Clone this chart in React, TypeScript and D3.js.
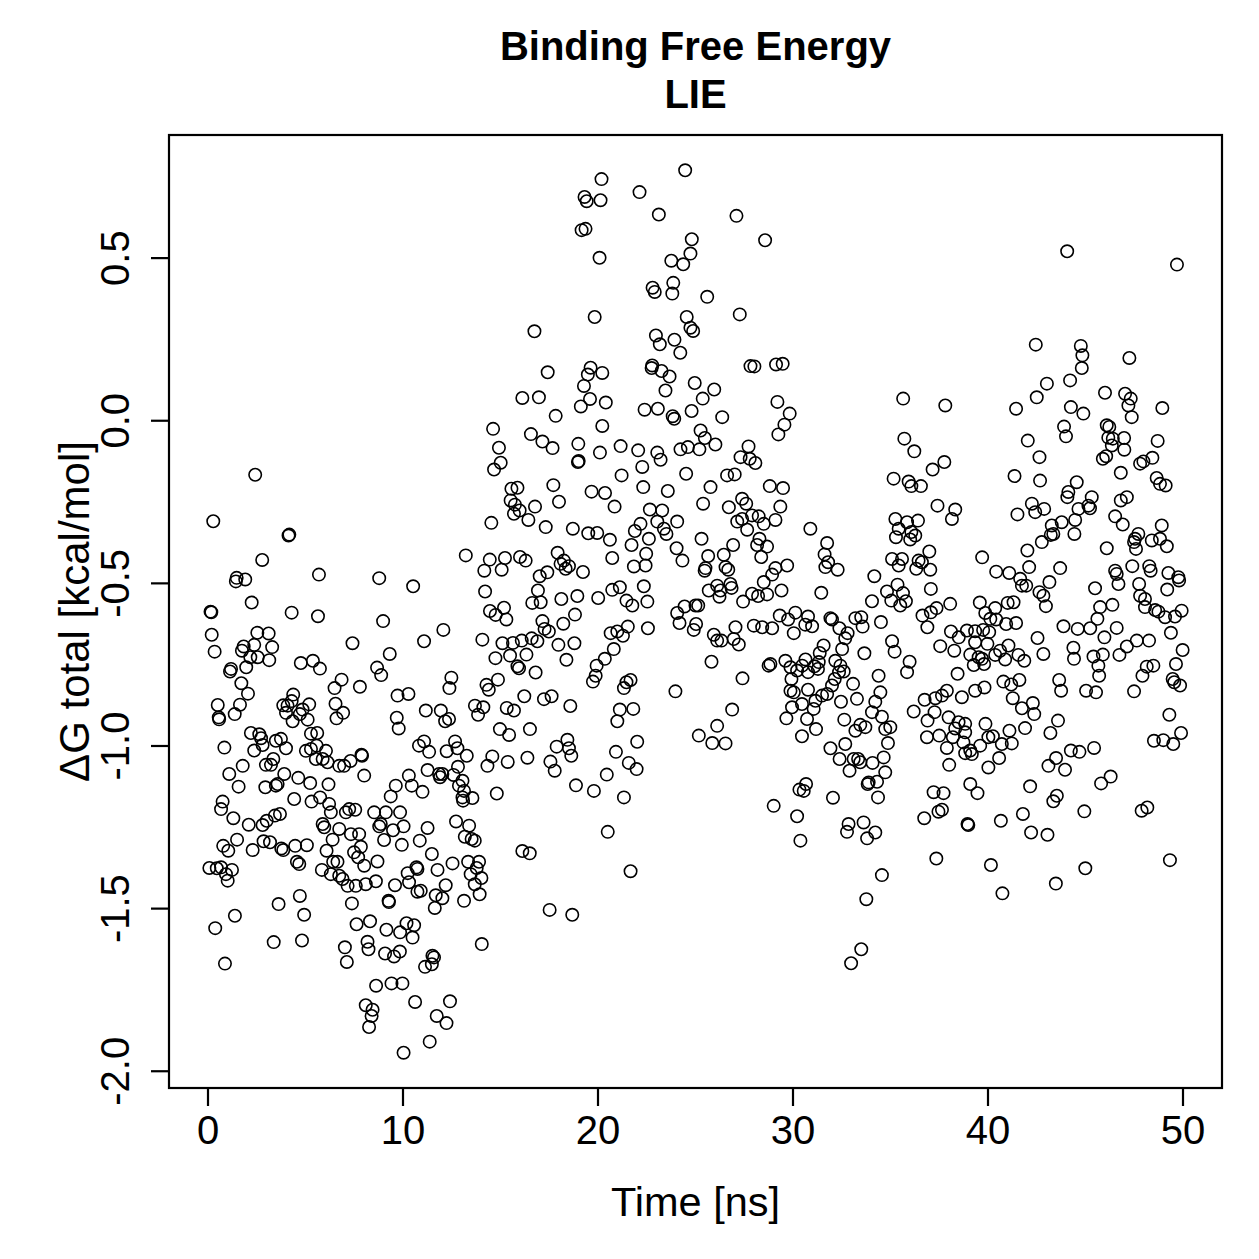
import { useEffect, useRef } from 'react';
import * as d3 from 'd3';

// LIE binding free energy along the trajectory, [time (ns), dG (kcal/mol)]
const frames0to5: [number, number][] = [
  [2.42,-0.166],[0.27,-0.309],[4.13,-0.353],[4.17,-0.35],[2.78,-0.428],[1.47,-0.483],[1.91,-0.488],[1.43,-0.494],
  [2.24,-0.559],[0.13,-0.587],[0.17,-0.589],[4.29,-0.59],[0.19,-0.658],[2.53,-0.652],[3.11,-0.654],[0.34,-0.71],
  [1.83,-0.694],[1.74,-0.707],[2.37,-0.689],[3.29,-0.696],[2.17,-0.727],[2.55,-0.727],[3.14,-0.736],[1.96,-0.758],
  [1.18,-0.763],[1.13,-0.771],[4.76,-0.745],[1.71,-0.807],[2.05,-0.839],[0.5,-0.874],[1.64,-0.873],[1.37,-0.902],
  [0.55,-0.912],[0.57,-0.918],[4.37,-0.842],[4.29,-0.862],[3.86,-0.875],[4.08,-0.876],[4.0,-0.898],[4.85,-0.888],
  [4.71,-0.902],[4.34,-0.924],[2.2,-0.96],[2.63,-0.964],[2.72,-0.976],[2.8,-0.997],[3.48,-0.984],[3.74,-0.978],
  [4.0,-1.007],[0.84,-1.005],[2.37,-1.014],[1.78,-1.061],[1.09,-1.086],[1.57,-1.125],[2.97,-1.058],[3.35,-1.04],
  [3.23,-1.058],[3.91,-1.086],[2.94,-1.127],[3.48,-1.122],[3.57,-1.117],[4.63,-1.098],[0.75,-1.171],[0.67,-1.194],
  [1.3,-1.222],[2.09,-1.242],[2.8,-1.243],[3.01,-1.23],[3.43,-1.214],[3.69,-1.209],[4.42,-1.163],[0.78,-1.307],
  [1.04,-1.322],[1.49,-1.288],[2.29,-1.32],[2.85,-1.293],[3.18,-1.296],[3.76,-1.315],[3.86,-1.32],[4.47,-1.307],
  [4.56,-1.356],[4.68,-1.363],[0.07,-1.375],[0.45,-1.376],[0.67,-1.373],[1.23,-1.381],[0.92,-1.394],[1.01,-1.414],
  [4.71,-1.461],[3.62,-1.486],[1.38,-1.522],[0.37,-1.56],[3.37,-1.603],[4.82,-1.598],[0.87,-1.669],[4.93,-1.519],
];

const frames5to10: [number, number][] = [
  [5.38,-0.738],[5.74,-0.762],[5.69,-0.473],[5.64,-0.601],[8.78,-0.484],[8.98,-0.616],[7.41,-0.684],[9.32,-0.717],
  [8.67,-0.759],[8.88,-0.782],[6.85,-0.796],[6.49,-0.822],[7.79,-0.818],[9.72,-0.845],[5.19,-0.872],[5.11,-0.919],
  [6.54,-0.87],[6.93,-0.898],[6.59,-0.915],[9.68,-0.913],[9.78,-0.946],[5.28,-0.962],[5.6,-0.96],[5.02,-1.015],
  [5.28,-1.009],[5.57,-0.999],[6.05,-1.015],[7.87,-1.027],[7.9,-1.03],[7.31,-1.046],[5.53,-1.04],[5.88,-1.04],
  [6.13,-1.05],[6.73,-1.061],[6.98,-1.061],[8.01,-1.091],[5.24,-1.114],[6.18,-1.118],[9.63,-1.122],[9.37,-1.155],
  [5.31,-1.171],[5.75,-1.158],[6.21,-1.178],[6.3,-1.204],[7.07,-1.204],[7.24,-1.194],[7.55,-1.196],[8.52,-1.204],
  [9.12,-1.204],[9.85,-1.204],[5.88,-1.24],[5.96,-1.25],[6.73,-1.255],[7.33,-1.271],[7.75,-1.271],[8.86,-1.24],
  [8.78,-1.247],[9.49,-1.259],[9.03,-1.289],[9.94,-1.304],[5.07,-1.305],[6.39,-1.288],[6.08,-1.322],[7.84,-1.31],
  [7.49,-1.327],[7.7,-1.342],[8.01,-1.368],[6.42,-1.356],[6.64,-1.356],[8.69,-1.355],[5.84,-1.381],[6.3,-1.394],
  [6.73,-1.399],[6.9,-1.409],[7.16,-1.43],[7.58,-1.43],[8.09,-1.425],[8.61,-1.416],[9.59,-1.428],[7.38,-1.484],
  [9.26,-1.476],[9.28,-1.48],[7.62,-1.548],[8.31,-1.539],[9.15,-1.565],[9.85,-1.573],[7.02,-1.619],[7.12,-1.664],
  [8.18,-1.602],[8.23,-1.625],[9.08,-1.638],[9.54,-1.647],[9.84,-1.632],[8.62,-1.737],[9.41,-1.73],[9.97,-1.73],
  [8.09,-1.797],[8.44,-1.811],[8.39,-1.83],[8.26,-1.864],
];

const frames10to15: [number, number][] = [
  [10.03,-1.247],[10.24,-1.391],[10.31,-1.419],[10.18,-1.545],[10.03,-1.943],[14.62,-0.025],[14.92,-0.083],[14.67,-0.15],
  [14.53,-0.314],[13.22,-0.414],[14.45,-0.427],[14.17,-0.461],[10.52,-0.509],[14.21,-0.525],[14.46,-0.585],[14.75,-0.597],
  [12.07,-0.643],[11.08,-0.678],[14.07,-0.673],[14.74,-0.73],[12.48,-0.79],[12.38,-0.822],[14.28,-0.812],[14.4,-0.827],
  [14.87,-0.796],[10.28,-0.84],[11.17,-0.891],[11.94,-0.891],[12.16,-0.924],[12.36,-0.917],[13.69,-0.876],[13.85,-0.904],
  [14.12,-0.881],[14.97,-0.948],[11.08,-0.986],[10.82,-0.999],[11.34,-1.018],[12.24,-1.016],[12.67,-0.986],[12.79,-1.007],
  [13.27,-1.03],[14.58,-1.032],[14.33,-1.061],[11.26,-1.074],[10.3,-1.091],[10.45,-1.122],[11.0,-1.141],[11.85,-1.086],
  [11.9,-1.096],[12.02,-1.086],[12.59,-1.089],[12.82,-1.064],[13.05,-1.107],[12.87,-1.122],[13.13,-1.138],[13.56,-1.16],
  [14.81,-1.146],[13.05,-1.158],[13.08,-1.168],[11.26,-1.252],[10.86,-1.291],[12.72,-1.232],[13.39,-1.245],[13.17,-1.279],
  [13.52,-1.286],[13.68,-1.291],[11.48,-1.332],[10.69,-1.373],[10.74,-1.378],[11.77,-1.381],[12.54,-1.361],[13.34,-1.356],
  [13.9,-1.356],[13.78,-1.375],[13.47,-1.394],[14.02,-1.406],[13.68,-1.425],[13.93,-1.456],[12.19,-1.428],[11.68,-1.459],
  [12.02,-1.468],[11.63,-1.498],[10.74,-1.448],[10.91,-1.445],[13.13,-1.476],[10.57,-1.551],[10.49,-1.589],[14.04,-1.609],
  [11.51,-1.645],[11.59,-1.65],[11.48,-1.671],[11.13,-1.679],[10.62,-1.787],[12.41,-1.785],[11.73,-1.83],[12.23,-1.852],
  [11.37,-1.909],
];

const frames15to20: [number, number][] = [
  [19.31,0.688],[19.42,0.675],[19.16,0.586],[19.36,0.59],[19.83,0.319],[16.74,0.275],[17.42,0.149],[19.62,0.163],
  [19.48,0.142],[19.28,0.107],[16.12,0.07],[16.97,0.072],[19.59,0.067],[19.12,0.044],[17.83,0.015],[16.56,-0.041],
  [17.15,-0.064],[17.67,-0.084],[18.99,-0.071],[18.97,-0.127],[19.01,-0.124],[15.01,-0.129],[15.56,-0.209],[15.87,-0.206],
  [17.71,-0.198],[19.67,-0.218],[18.0,-0.249],[15.52,-0.245],[15.74,-0.258],[15.98,-0.276],[15.69,-0.286],[16.77,-0.264],
  [16.43,-0.305],[17.32,-0.327],[18.71,-0.332],[19.5,-0.346],[19.96,-0.345],[15.23,-0.422],[15.06,-0.458],[16.0,-0.419],
  [16.29,-0.43],[17.93,-0.406],[18.08,-0.44],[18.25,-0.43],[18.51,-0.447],[18.34,-0.455],[19.23,-0.465],[17.01,-0.478],
  [17.4,-0.466],[16.92,-0.522],[16.63,-0.56],[17.06,-0.558],[18.12,-0.548],[18.94,-0.539],[15.18,-0.575],[15.3,-0.611],
  [18.82,-0.596],[18.22,-0.624],[17.15,-0.616],[17.26,-0.64],[17.48,-0.648],[15.1,-0.684],[15.64,-0.683],[16.09,-0.676],
  [16.6,-0.669],[16.89,-0.678],[17.97,-0.689],[18.79,-0.684],[15.49,-0.722],[16.33,-0.719],[18.38,-0.735],[15.87,-0.755],
  [15.95,-0.761],[16.8,-0.774],[19.93,-0.753],[19.88,-0.784],[19.74,-0.802],[16.22,-0.847],[17.23,-0.856],[17.62,-0.847],
  [18.58,-0.877],[15.32,-0.883],[15.69,-0.891],[15.44,-0.966],[16.51,-0.948],[15.37,-1.049],[16.38,-1.036],[17.88,-1.002],
  [18.43,-0.981],[18.51,-1.007],[18.63,-1.03],[17.56,-1.048],[17.78,-1.076],[18.87,-1.121],[19.79,-1.138],[16.12,-1.323],
  [16.5,-1.33],[17.52,-1.504],[18.68,-1.519],
];

const frames20to25: [number, number][] = [
  [20.13,0.678],[20.18,0.743],[20.08,0.501],[20.22,0.147],[20.4,0.056],[20.22,-0.016],[20.1,-0.098],[20.36,-0.222],
  [20.01,-0.545],[20.45,-1.088],[20.5,-1.264],[24.47,0.77],[22.13,0.703],[23.12,0.634],[24.81,0.558],[24.74,0.514],
  [23.76,0.492],[24.37,0.481],[22.8,0.409],[22.91,0.396],[23.86,0.424],[23.81,0.391],[24.55,0.319],[24.74,0.286],
  [24.88,0.276],[22.97,0.262],[23.17,0.235],[23.92,0.249],[24.22,0.209],[22.78,0.17],[22.75,0.162],[23.26,0.153],
  [23.67,0.136],[23.46,0.093],[24.96,0.116],[22.39,0.034],[23.07,0.037],[23.83,0.014],[23.91,0.006],[24.8,0.03],
  [21.16,-0.078],[22.06,-0.091],[23.04,-0.098],[23.21,-0.12],[22.27,-0.142],[24.23,-0.088],[24.61,-0.081],[21.21,-0.168],
  [24.52,-0.163],[20.85,-0.264],[22.32,-0.204],[23.58,-0.216],[22.66,-0.273],[23.29,-0.276],[23.04,-0.31],[23.38,-0.332],
  [23.51,-0.348],[24.06,-0.31],[22.18,-0.317],[21.89,-0.339],[22.61,-0.363],[20.61,-0.366],[21.72,-0.382],[22.47,-0.409],
  [22.44,-0.445],[21.84,-0.448],[20.73,-0.422],[24.03,-0.392],[24.33,-0.43],[22.35,-0.509],[22.53,-0.556],[20.73,-0.52],
  [21.12,-0.512],[21.46,-0.553],[21.76,-0.568],[24.06,-0.591],[24.44,-0.571],[24.18,-0.622],[20.65,-0.653],[20.99,-0.648],
  [21.28,-0.661],[21.53,-0.633],[22.56,-0.638],[20.81,-0.702],[20.35,-0.732],[21.67,-0.797],[21.46,-0.804],[21.33,-0.822],
  [23.97,-0.832],[21.12,-0.888],[20.99,-0.924],[21.81,-0.886],[22.01,-0.987],[20.92,-1.018],[21.58,-1.052],[21.98,-1.071],
  [21.33,-1.158],[21.67,-1.385],[24.91,-0.643],
];

const frames25to30: [number, number][] = [
  [27.1,0.63],[28.57,0.555],[25.6,0.381],[27.27,0.327],[27.82,0.168],[28.02,0.167],[29.13,0.173],[29.47,0.175],
  [25.37,0.068],[25.96,0.096],[26.37,0.011],[29.2,0.058],[29.83,0.022],[29.56,-0.012],[29.25,-0.042],[25.26,-0.03],
  [25.48,-0.053],[26.02,-0.073],[25.2,-0.088],[27.72,-0.079],[27.31,-0.112],[27.78,-0.117],[28.07,-0.13],[26.62,-0.168],
  [27.01,-0.165],[25.77,-0.204],[25.39,-0.255],[26.71,-0.266],[27.39,-0.24],[27.6,-0.255],[27.14,-0.31],[27.39,-0.302],
  [28.81,-0.201],[29.49,-0.207],[29.35,-0.264],[27.9,-0.291],[28.24,-0.294],[27.65,-0.335],[28.5,-0.317],[29.1,-0.305],
  [25.31,-0.363],[25.65,-0.416],[25.51,-0.453],[25.47,-0.461],[26.93,-0.382],[26.45,-0.412],[26.54,-0.45],[26.68,-0.458],
  [28.28,-0.363],[28.16,-0.382],[28.67,-0.387],[28.37,-0.419],[29.1,-0.453],[29.7,-0.445],[28.93,-0.473],[28.5,-0.496],
  [28.67,-0.534],[29.41,-0.522],[25.68,-0.522],[26.11,-0.507],[26.28,-0.522],[26.23,-0.541],[26.79,-0.502],[26.85,-0.514],
  [27.44,-0.556],[27.9,-0.532],[28.21,-0.539],[25.0,-0.568],[25.14,-0.568],[25.03,-0.625],[25.94,-0.658],[26.11,-0.676],
  [26.33,-0.676],[27.05,-0.635],[26.96,-0.671],[27.22,-0.688],[27.99,-0.63],[28.42,-0.635],[28.93,-0.638],[29.32,-0.599],
  [29.75,-0.611],[25.82,-0.741],[27.41,-0.792],[28.84,-0.748],[28.75,-0.753],[29.61,-0.738],[29.87,-0.758],[29.92,-0.794],
  [29.87,-0.83],[29.95,-0.881],[29.66,-0.915],[26.88,-0.888],[26.11,-0.938],[25.17,-0.968],[25.86,-0.991],[26.54,-0.992],
  [29.01,-1.184],
];

const frames30to35: [number, number][] = [
  [30.12,-0.59],[30.04,-0.653],[30.89,-0.332],[31.75,-0.376],[31.62,-0.411],[31.8,-0.435],[31.66,-0.45],[32.29,-0.458],
  [34.17,-0.478],[31.45,-0.529],[34.82,-0.525],[34.05,-0.555],[30.77,-0.602],[30.63,-0.627],[30.98,-0.632],[31.92,-0.607],
  [32.0,-0.611],[32.38,-0.638],[32.8,-0.653],[32.68,-0.669],[32.52,-0.702],[33.2,-0.607],[33.5,-0.604],[33.57,-0.633],
  [34.51,-0.619],[33.66,-0.715],[31.57,-0.691],[31.37,-0.714],[31.32,-0.742],[31.1,-0.755],[30.64,-0.734],[30.47,-0.753],
  [30.21,-0.768],[30.77,-0.773],[31.28,-0.763],[32.17,-0.738],[32.43,-0.753],[32.6,-0.771],[34.39,-0.784],[32.36,-0.773],
  [30.04,-0.835],[30.77,-0.827],[30.46,-0.871],[30.72,-0.917],[31.06,-0.886],[31.15,-0.861],[31.49,-0.845],[31.75,-0.84],
  [32.0,-0.814],[32.14,-0.794],[31.18,-0.948],[30.46,-0.97],[32.46,-0.864],[33.08,-0.809],[33.28,-0.855],[32.63,-0.919],
  [34.48,-0.835],[34.22,-0.864],[34.05,-0.896],[34.56,-0.91],[34.73,-0.948],[34.99,-0.942],[34.87,-0.991],[34.65,-1.035],
  [33.45,-0.935],[33.71,-0.942],[33.2,-0.953],[31.92,-1.007],[32.68,-0.994],[32.39,-1.04],[32.9,-1.076],[33.11,-1.04],
  [33.34,-1.04],[33.45,-1.05],[34.08,-1.052],[34.73,-1.081],[34.31,-1.11],[33.88,-1.112],[33.83,-1.117],[34.36,-1.158],
  [30.67,-1.117],[30.33,-1.134],[30.55,-1.138],[32.05,-1.159],[30.21,-1.216],[30.38,-1.291],[32.85,-1.24],[32.77,-1.264],
  [33.62,-1.235],[33.8,-1.284],[34.22,-1.266],[34.56,-1.397],[33.76,-1.471],[33.5,-1.625],[32.98,-1.668],
];

const frames35to40: [number, number][] = [
  [35.65,0.068],[37.81,0.047],[35.71,-0.055],[36.22,-0.094],[37.76,-0.127],[37.16,-0.15],[35.16,-0.178],[35.93,-0.187],
  [36.07,-0.201],[36.56,-0.201],[37.41,-0.261],[38.32,-0.273],[38.15,-0.302],[35.25,-0.302],[35.85,-0.312],[36.41,-0.307],
  [35.42,-0.332],[35.28,-0.358],[36.07,-0.342],[36.27,-0.353],[36.01,-0.365],[35.08,-0.425],[35.59,-0.425],[35.42,-0.445],
  [36.44,-0.43],[36.61,-0.435],[36.32,-0.455],[37.04,-0.458],[36.99,-0.402],[39.7,-0.42],[35.36,-0.504],[35.64,-0.53],
  [35.04,-0.553],[35.5,-0.568],[35.79,-0.555],[37.07,-0.517],[38.06,-0.563],[39.58,-0.559],[39.86,-0.591],[39.75,-0.643],
  [36.64,-0.599],[37.07,-0.589],[37.36,-0.576],[36.89,-0.635],[35.08,-0.678],[35.21,-0.71],[35.98,-0.741],[37.55,-0.693],
  [38.1,-0.648],[38.27,-0.707],[38.5,-0.666],[38.92,-0.645],[39.34,-0.647],[39.34,-0.681],[39.09,-0.719],[39.52,-0.727],
  [39.27,-0.751],[39.8,-0.748],[39.69,-0.732],[35.85,-0.773],[38.44,-0.778],[36.19,-0.894],[36.75,-0.858],[37.3,-0.853],
  [37.64,-0.845],[37.89,-0.83],[36.9,-0.922],[37.26,-0.896],[37.98,-0.912],[38.66,-0.85],[39.34,-0.83],[39.82,-0.82],
  [36.87,-0.973],[37.5,-0.968],[38.2,-0.973],[37.89,-1.006],[38.32,-0.946],[38.49,-0.927],[38.83,-0.932],[38.83,-0.958],
  [38.74,-0.989],[38.83,-1.022],[39.09,-1.014],[39.6,-0.999],[39.17,-1.025],[39.87,-0.932],[38.01,-1.058],[37.21,-1.142],
  [37.72,-1.145],[39.09,-1.117],[39.46,-1.145],[36.73,-1.222],[37.46,-1.202],[37.64,-1.196],[38.95,-1.24],[38.99,-1.243],
  [37.35,-1.346],[39.97,-0.686],
];

const frames40to45: [number, number][] = [
  [40.02,-0.973],[40.02,-1.066],[40.15,-1.366],[40.06,-0.65],[40.12,-0.609],[44.06,0.521],[42.45,0.234],[44.76,0.23],
  [44.84,0.201],[44.81,0.162],[43.02,0.114],[42.5,0.072],[41.44,0.037],[44.21,0.124],[44.25,0.042],[44.89,0.022],
  [43.9,-0.018],[44.0,-0.048],[42.04,-0.061],[42.64,-0.112],[41.36,-0.17],[42.67,-0.184],[44.55,-0.189],[44.12,-0.219],
  [44.07,-0.235],[42.25,-0.255],[42.42,-0.281],[42.88,-0.271],[41.51,-0.288],[44.64,-0.271],[44.47,-0.305],[43.78,-0.312],
  [43.27,-0.322],[43.35,-0.348],[43.22,-0.351],[44.43,-0.348],[42.76,-0.373],[42.02,-0.399],[40.42,-0.464],[41.09,-0.468],
  [42.11,-0.45],[41.65,-0.486],[41.74,-0.507],[41.96,-0.507],[43.7,-0.453],[43.15,-0.496],[42.64,-0.527],[42.84,-0.538],
  [42.97,-0.57],[40.37,-0.576],[41.01,-0.56],[41.31,-0.558],[41.44,-0.622],[40.93,-0.625],[40.42,-0.611],[41.05,-0.691],
  [40.62,-0.707],[40.37,-0.72],[40.88,-0.734],[41.56,-0.72],[41.86,-0.738],[40.79,-0.802],[41.19,-0.811],[41.61,-0.797],
  [43.65,-0.797],[43.75,-0.83],[43.87,-0.632],[44.6,-0.64],[42.54,-0.668],[42.84,-0.717],[44.38,-0.698],[44.41,-0.732],
  [41.27,-0.853],[41.74,-0.884],[42.3,-0.868],[42.37,-0.902],[40.25,-0.97],[40.71,-0.994],[41.22,-0.992],[41.1,-0.953],
  [41.9,-0.945],[43.59,-0.922],[43.2,-0.96],[44.25,-1.014],[44.69,-1.018],[43.49,-1.037],[43.1,-1.061],[43.95,-1.073],
  [40.57,-1.037],[42.16,-1.124],[43.53,-1.153],[43.35,-1.17],[44.94,-1.201],[41.79,-1.209],[40.66,-1.23],[42.21,-1.266],
  [43.05,-1.273],[44.99,-1.376],[43.48,-1.423],[40.74,-1.453],
];

const frames45to50: [number, number][] = [
  [49.69,0.48],[47.25,0.193],[46.0,0.086],[47.03,0.083],[47.32,0.068],[47.2,0.047],[47.37,0.011],[48.94,0.039],
  [46.09,-0.014],[46.22,-0.019],[46.17,-0.052],[46.4,-0.055],[46.98,-0.053],[46.35,-0.076],[46.99,-0.089],[48.7,-0.062],
  [45.89,-0.117],[46.06,-0.109],[47.8,-0.132],[47.97,-0.125],[48.43,-0.114],[46.81,-0.16],[48.65,-0.176],[48.82,-0.194],
  [49.11,-0.199],[45.32,-0.235],[45.15,-0.261],[45.23,-0.269],[47.12,-0.235],[46.81,-0.245],[46.52,-0.294],[46.91,-0.319],
  [48.91,-0.322],[46.09,-0.392],[47.71,-0.348],[47.54,-0.363],[47.49,-0.373],[47.59,-0.394],[48.4,-0.368],[48.82,-0.363],
  [49.17,-0.386],[45.49,-0.515],[46.52,-0.461],[46.6,-0.471],[46.69,-0.502],[47.4,-0.447],[47.75,-0.502],[48.27,-0.447],
  [48.34,-0.461],[47.8,-0.538],[48.05,-0.548],[48.05,-0.573],[48.57,-0.582],[48.74,-0.587],[49.08,-0.604],[49.59,-0.602],
  [49.93,-0.584],[49.25,-0.468],[49.76,-0.481],[49.8,-0.491],[49.19,-0.519],[45.75,-0.573],[46.38,-0.566],[45.61,-0.609],
  [46.6,-0.637],[45.97,-0.666],[45.24,-0.638],[45.41,-0.725],[45.89,-0.719],[45.66,-0.753],[45.7,-0.784],[46.74,-0.72],
  [47.12,-0.694],[47.63,-0.676],[48.26,-0.676],[49.38,-0.652],[49.98,-0.705],[49.64,-0.748],[48.14,-0.756],[48.48,-0.753],
  [47.92,-0.784],[49.47,-0.794],[49.55,-0.804],[49.85,-0.814],[45.03,-0.83],[45.54,-0.835],[47.49,-0.832],[49.3,-0.904],
  [49.9,-0.96],[48.51,-0.984],[48.99,-0.982],[49.5,-0.994],[45.44,-1.006],[46.29,-1.094],[45.8,-1.115],[47.88,-1.199],
  [48.17,-1.189],[49.33,-1.351],
];

const xTicks = [0, 10, 20, 30, 40, 50];
const yTicks = [-2.0, -1.5, -1.0, -0.5, 0.0, 0.5];
const titleLines = ['Binding Free Energy', 'LIE'];
const xLabel = 'Time [ns]';
const yLabel = 'ΔG total [kcal/mol]';

const font = '"Liberation Sans", Arial, Helvetica, sans-serif';

export default function App() {
  const svgRef = useRef<SVGSVGElement>(null);

  useEffect(() => {
    if (!svgRef.current) return;
    d3.select(svgRef.current).selectAll('*').remove();

    const width = 1259;
    const height = 1259;
    const box = { left: 169, right: 1222, top: 135, bottom: 1088 };

    const points = [
      ...frames0to5, ...frames5to10, ...frames10to15, ...frames15to20, ...frames20to25,
      ...frames25to30, ...frames30to35, ...frames35to40, ...frames40to45, ...frames45to50,
    ];

    // base-R style 4% padding around the data range
    const pad = ([lo, hi]: [number, number]) => {
      const d = (hi - lo) * 0.04;
      return [lo - d, hi + d];
    };
    const yExt = d3.extent(points, (d) => d[1]) as [number, number];

    const x = d3.scaleLinear().domain(pad([0, 50])).range([box.left, box.right]);
    const y = d3.scaleLinear().domain(pad(yExt)).range([box.bottom, box.top]);

    const svg = d3
      .select(svgRef.current)
      .attr('width', width)
      .attr('height', height)
      .style('font-family', font);

    svg.append('rect').attr('width', width).attr('height', height).attr('fill', 'white');

    // points
    svg
      .append('g')
      .selectAll('circle')
      .data(points)
      .join('circle')
      .attr('cx', (d) => x(d[0]))
      .attr('cy', (d) => y(d[1]))
      .attr('r', 6.2)
      .attr('fill', 'none')
      .attr('stroke', 'black')
      .attr('stroke-width', 1.6);

    // plot frame
    svg
      .append('rect')
      .attr('x', box.left)
      .attr('y', box.top)
      .attr('width', box.right - box.left)
      .attr('height', box.bottom - box.top)
      .attr('fill', 'none')
      .attr('stroke', 'black')
      .attr('stroke-width', 2.2);

    // x axis
    const gx = svg.append('g');
    gx.append('line')
      .attr('x1', x(xTicks[0]))
      .attr('x2', x(xTicks[xTicks.length - 1]))
      .attr('y1', box.bottom)
      .attr('y2', box.bottom)
      .attr('stroke', 'black')
      .attr('stroke-width', 2.2);
    gx.selectAll('line.tick')
      .data(xTicks)
      .join('line')
      .attr('class', 'tick')
      .attr('x1', (d) => x(d))
      .attr('x2', (d) => x(d))
      .attr('y1', box.bottom)
      .attr('y2', box.bottom + 18)
      .attr('stroke', 'black')
      .attr('stroke-width', 2.2);
    gx.selectAll('text')
      .data(xTicks)
      .join('text')
      .attr('x', (d) => x(d))
      .attr('y', 1144)
      .attr('text-anchor', 'middle')
      .attr('font-size', 40)
      .text((d) => d3.format('d')(d));

    // y axis
    const gy = svg.append('g');
    gy.selectAll('line.tick')
      .data(yTicks)
      .join('line')
      .attr('class', 'tick')
      .attr('x1', box.left)
      .attr('x2', box.left - 18)
      .attr('y1', (d) => y(d))
      .attr('y2', (d) => y(d))
      .attr('stroke', 'black')
      .attr('stroke-width', 2.2);
    gy.selectAll('text')
      .data(yTicks)
      .join('text')
      .attr('transform', (d) => `translate(129,${y(d)}) rotate(-90)`)
      .attr('text-anchor', 'middle')
      .attr('font-size', 40)
      .text((d) => d3.format('.1f')(d).replace('−', '-'));

    // axis titles
    svg
      .append('text')
      .attr('x', (box.left + box.right) / 2)
      .attr('y', 1216)
      .attr('text-anchor', 'middle')
      .attr('font-size', 41.5)
      .text(xLabel);

    svg
      .append('text')
      .attr('transform', `translate(89,${(box.top + box.bottom) / 2}) rotate(-90)`)
      .attr('text-anchor', 'middle')
      .attr('font-size', 42)
      .text(yLabel);

    // title
    svg
      .append('g')
      .selectAll('text')
      .data(titleLines)
      .join('text')
      .attr('x', (box.left + box.right) / 2)
      .attr('y', (_, i) => 60 + i * 48)
      .attr('text-anchor', 'middle')
      .attr('font-size', 40)
      .attr('font-weight', 'bold')
      .text((d) => d);
  }, []);

  return (
    <div style={{ position: 'absolute', left: 0, top: 0 }}>
      <svg ref={svgRef}></svg>
    </div>
  );
}
